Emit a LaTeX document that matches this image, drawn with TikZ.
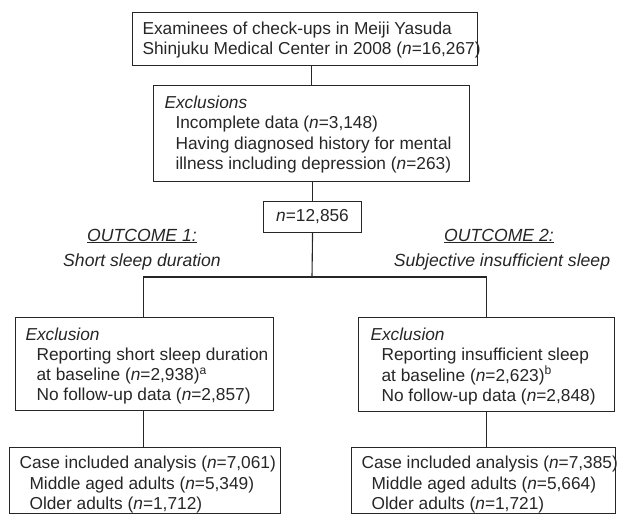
\documentclass[tikz,border=0pt]{standalone}
\usepackage{fontspec}
\setmainfont{Liberation Sans}
\newcommand{\nv}{\textit{n}}
\newcommand{\ind}{\hspace*{11pt}}
\begin{document}
\begin{tikzpicture}[x=1pt,y=-1pt,line width=1.1pt,
  box/.style={draw=black!85,rectangle,inner sep=0pt,anchor=north west},
  txt/.style={anchor=west,align=left,inner sep=0pt,text=black!85,font=\fontsize{17.3}{20.3}\selectfont},
  otxt/.style={inner sep=0pt,text=black!85,font=\fontsize{17.6}{20}\selectfont},
  link/.style={draw=black!85,line width=1.1pt}]
\useasboundingbox (0,0) rectangle (619,525);
% boxes
\node[box,minimum width=345pt,minimum height=53pt] (top) at (132,12) {};
\node[box,minimum width=316pt,minimum height=96pt] (excl) at (153,85) {};
\node[box,minimum width=98pt,minimum height=31pt] (nbox) at (263,201) {};
\node[box,minimum width=258pt,minimum height=93pt] (exL) at (15,317) {};
\node[box,minimum width=256pt,minimum height=94pt] (exR) at (358,317) {};
\node[box,minimum width=271pt,minimum height=66pt] (caseL) at (9,447) {};
\node[box,minimum width=264pt,minimum height=66pt] (caseR) at (351,447) {};
% texts
\node[txt] (topT) at ([xshift=10pt,yshift=-1pt]top.west) {Examinees of check-ups in Meiji Yasuda\\Shinjuku Medical Center in 2008 (\nv=16,267)};
\node[txt] (exclT) at ([xshift=11pt,yshift=-1pt]excl.west) {\textit{Exclusions}\\\ind Incomplete data (\nv=3,148)\\\ind Having diagnosed history for mental\\\ind illness including depression (\nv=263)};
\node[otxt,font=\fontsize{17.3}{20}\selectfont] (nT) at (nbox.center) {\nv=12,856};
\node[txt] (exLT) at ([xshift=10pt,yshift=-2pt]exL.west) {\textit{Exclusion}\\\ind Reporting short sleep duration\\\ind at baseline (\nv=2,938)\textsuperscript{a}\\\ind No follow-up data (\nv=2,857)};
\node[txt] (exRT) at ([xshift=12pt,yshift=-2pt]exR.west) {\textit{Exclusion}\\\ind Reporting insufficient sleep\\\ind at baseline (\nv=2,623)\textsuperscript{b}\\\ind No follow-up data (\nv=2,848)};
\node[txt] (caseLT) at ([xshift=10pt,yshift=-4pt]caseL.west) {Case included analysis (\nv=7,061)\\\hspace*{10pt}Middle aged adults (\nv=5,349)\\\hspace*{10pt}Older adults (\nv=1,712)};
\node[txt] (caseRT) at ([xshift=10pt,yshift=-4pt]caseR.west) {Case included analysis (\nv=7,385)\\\hspace*{10pt}Middle aged adults (\nv=5,664)\\\hspace*{10pt}Older adults (\nv=1,721)};
% outcome labels
\node[otxt] (o1) at (142,236) {\underline{\textit{OUTCOME 1:}}};
\node[otxt] (o1b) at (142,262) {\textit{Short sleep duration}};
\node[otxt] (o2) at (499,236) {\underline{\textit{OUTCOME 2:}}};
\node[otxt] (o2b) at (502,262) {\textit{Subjective insufficient sleep}};
% connectors
\coordinate (split) at (312,277);
\draw[link] (excl.north |- top.south) -- (excl.north);
\draw[link] (nbox.north |- excl.south) -- (nbox.north);
\draw[link] (nbox.south) -- (split);
\draw[link] ([xshift=-1pt]exL.north) |- (split) -| (exR.north);
\draw[link] ([xshift=-1pt]exL.south) -- ([xshift=-1pt]exL.south |- caseL.north);
\draw[link] (exR.south) -- (exR.south |- caseR.north);
\end{tikzpicture}
\end{document}
